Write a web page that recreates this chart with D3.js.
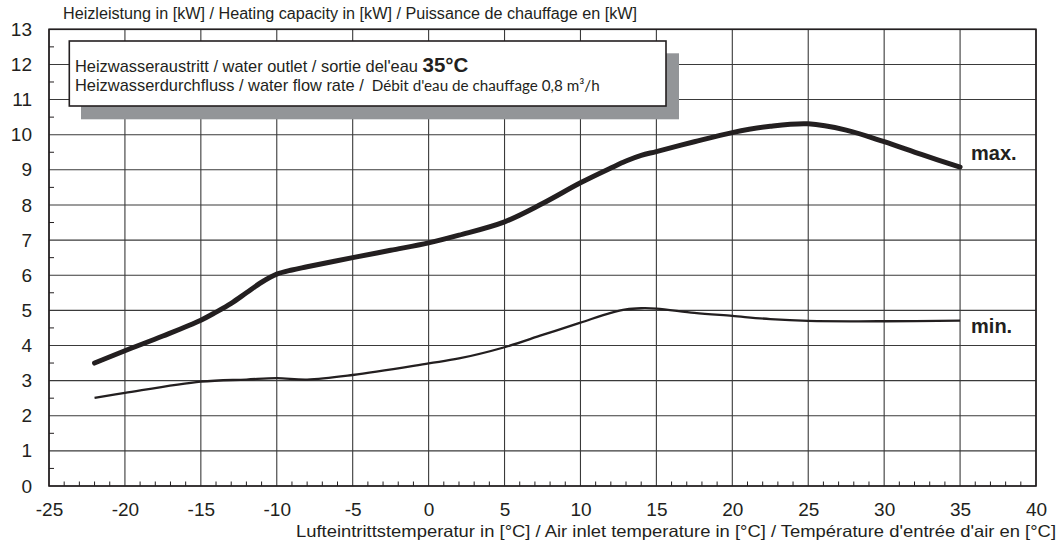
<!DOCTYPE html>
<html><head><meta charset="utf-8">
<script src="https://cdn.jsdelivr.net/npm/d3@7"></script>
<style>body{margin:0;background:#fff}svg{display:block}</style>
</head><body>
<svg id="c" width="1057" height="546"></svg>
<script>
const xTicks = [-25,-20,-15,-10,-5,0,5,10,15,20,25,30,35,40];
const yTicks = [0,1,2,3,4,5,6,7,8,9,10,11,12,13];
const maxX = [-22,-20,-17.5,-15,-14,-13,-12,-11,-10,-9,-8,-5,-2.5,0,2,5,7.5,10,12,13,14,15,17.5,20,22.5,25,27.5,30,32.5,35];
const maxY = [3.5,3.85,4.27,4.72,4.95,5.2,5.5,5.8,6.03,6.15,6.24,6.5,6.71,6.92,7.14,7.52,8.04,8.63,9.05,9.25,9.41,9.52,9.80,10.06,10.24,10.31,10.13,9.80,9.43,9.08];
const minX = [-22,-20,-15,-12,-10,-8,-5,0,2,5,7.5,10,12,13,14,15,17.5,20,22.5,25,30,35];
const minY = [2.51,2.65,2.97,3.03,3.07,3.03,3.16,3.49,3.63,3.95,4.3,4.65,4.93,5.03,5.06,5.05,4.93,4.84,4.75,4.70,4.69,4.71];
const seriesLabels = ["max.","min."];
const titleY = "Heizleistung in [kW] / Heating capacity in [kW] / Puissance de chauffage en [kW]";
const titleX = "Lufteintrittstemperatur in [°C] / Air inlet temperature in [°C] / Température d'entrée d'air en [°C]";
const legendLine1 = ["Heizwasseraustritt / water outlet / sortie del'eau ", "35°C"];
const legendLine2 = ["Heizwasserdurchfluss / water flow rate / ", "Débit d'eau de chauffage 0,8 m³/h"];

const ink = "#231f20";
const svg = d3.select("#c");
const L = 49, R = 1036, T = 29.3, B = 486;
const x = d3.scaleLinear().domain([-25,40]).range([L,R]);
const y = d3.scaleLinear().domain([0,13]).range([B,T]);
const font = "'Liberation Sans', Arial, sans-serif";

// grid
svg.append("g").selectAll("line").data(yTicks).join("line")
  .attr("x1",L).attr("x2",R).attr("y1",d=>y(d)).attr("y2",d=>y(d))
  .attr("stroke","#3a3a3a").attr("stroke-width",1.1);
svg.append("g").selectAll("line").data(xTicks).join("line")
  .attr("y1",T).attr("y2",B).attr("x1",d=>x(d)).attr("x2",d=>x(d))
  .attr("stroke","#3a3a3a").attr("stroke-width",1.1);

// minor ticks
svg.append("g").selectAll("line").data(d3.range(-24,40,1).filter(v=>v%5!==0)).join("line")
  .attr("x1",d=>x(d)).attr("x2",d=>x(d)).attr("y1",B).attr("y2",B-4.5)
  .attr("stroke",ink).attr("stroke-width",1);
svg.append("g").selectAll("line").data(d3.range(0.5,13,1)).join("line")
  .attr("x1",L).attr("x2",L+5).attr("y1",d=>y(d)).attr("y2",d=>y(d))
  .attr("stroke",ink).attr("stroke-width",1);

// frame
svg.append("rect").attr("x",L).attr("y",T).attr("width",R-L).attr("height",B-T)
  .attr("fill","none").attr("stroke",ink).attr("stroke-width",1.6);

// axes labels
const yAxis = d3.axisLeft(y).tickValues(yTicks).tickSize(0).tickPadding(17);
const gy = svg.append("g").attr("transform",`translate(${L},0)`).call(yAxis);
gy.select(".domain").remove();
gy.selectAll("text").attr("font-family",font).attr("font-size",19).attr("fill",ink);
const xAxis = d3.axisBottom(x).tickValues(xTicks).tickSize(0).tickPadding(17).tickFormat(d => String(d));
const gx = svg.append("g").attr("transform",`translate(0,${B})`).call(xAxis);
gx.select(".domain").remove();
gx.selectAll("text").attr("font-family",font).attr("font-size",19).attr("fill",ink);

// titles
svg.append("text").attr("x",63).attr("y",19).attr("font-family",font).attr("font-size",16)
  .attr("textLength",574).attr("lengthAdjust","spacingAndGlyphs")
  .attr("fill",ink).text(titleY);
svg.append("text").attr("x",296).attr("y",537).attr("font-family",font)
  .attr("font-size",16.5).attr("textLength",760).attr("lengthAdjust","spacingAndGlyphs")
  .attr("fill",ink).text(titleX);

// curves
const line = d3.line().x(d=>x(d[0])).y(d=>y(d[1])).curve(d3.curveCatmullRom.alpha(0.5));
const maxData = maxX.map((v,i)=>[v,maxY[i]]);
const minData = minX.map((v,i)=>[v,minY[i]]);
svg.append("path").datum(maxData).attr("d",line).attr("fill","none").attr("stroke",ink)
  .attr("stroke-width",5).attr("stroke-linecap","round");
svg.append("path").datum(minData).attr("d",line).attr("fill","none").attr("stroke",ink)
  .attr("stroke-width",2.3);
svg.append("text").attr("x",x(35)+11).attr("y",y(maxY[maxY.length-1])-7).attr("font-family",font)
  .attr("font-weight","bold").attr("font-size",20).attr("fill",ink).text(seriesLabels[0]);
svg.append("text").attr("x",x(35)+11).attr("y",y(minY[minY.length-1])+12).attr("font-family",font)
  .attr("font-weight","bold").attr("font-size",20).attr("fill",ink).text(seriesLabels[1]);

// legend box
svg.append("rect").attr("x",81).attr("y",53.3).attr("width",598).attr("height",66).attr("fill","#939598");
svg.append("rect").attr("x",69.3).attr("y",41).attr("width",596.7).attr("height",65)
  .attr("fill","#fff").attr("stroke",ink).attr("stroke-width",1.6);
const t1 = svg.append("text").attr("x",75).attr("y",72).attr("font-family",font).attr("font-size",16.4).attr("fill",ink);
t1.append("tspan").text(legendLine1[0]);
t1.append("tspan").attr("font-weight","bold").attr("font-size",20.5).text(legendLine1[1]);
const t2 = svg.append("text").attr("x",75).attr("y",91).attr("font-family",font).attr("font-size",16.4).attr("fill",ink);
t2.append("tspan").text(legendLine2[0]);
t2.append("tspan").attr("x",371.7).attr("font-family","Lato, 'Open Sans', sans-serif").attr("font-size",14.5)
  .attr("textLength",228).attr("lengthAdjust","spacingAndGlyphs").text(legendLine2[1]);
</script>
</body></html>
